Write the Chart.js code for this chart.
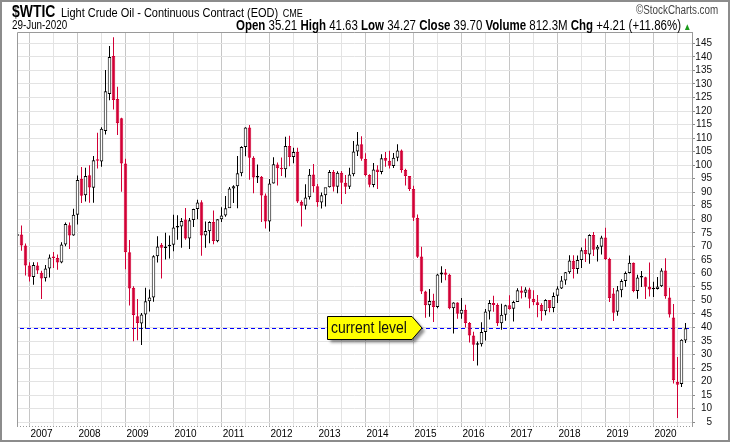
<!DOCTYPE html>
<html>
<head>
<meta charset="utf-8">
<script src="https://cdn.jsdelivr.net/npm/chart.js@4.4.1/dist/chart.umd.min.js"></script>
<style>
html,body{margin:0;padding:0;background:#fff;}
#wrap{position:relative;width:730px;height:442px;overflow:hidden;font-family:"Liberation Sans",Arial,sans-serif;}
#c{position:absolute;left:0;top:0;}
#frame{position:absolute;left:0;top:0;width:730px;height:442px;box-sizing:border-box;border:2px solid #8c8c8c;pointer-events:none;}
.t{position:absolute;white-space:nowrap;color:#000;line-height:1;}
.nl{transform:scaleX(0.82);transform-origin:left top;}
.nr{transform:scaleX(0.82);transform-origin:right top;}
</style>
</head>
<body>
<div id="wrap">
<canvas id="c" width="730" height="442"></canvas>
<div class="t nl" style="left:12px;top:3px;font-size:13.4px;"><b style="font-size:17px;margin-right:3px;">$WTIC</b> Light Crude Oil - Continuous Contract (EOD) <span style="font-size:11px;margin-left:2px;">CME</span></div>
<div class="t nl" style="left:12px;top:19px;font-size:12px;">29-Jun-2020</div>
<div class="t nr" style="right:39px;top:18px;font-size:14px;"><b>Open</b> 35.21 <b>High</b> 41.63 <b>Low</b> 34.27 <b>Close</b> 39.70 <b>Volume</b> 812.3M <b>Chg</b> +4.21 (+11.86%)<span style="color:#1a9a1a;font-size:10px"> &#9650;</span></div>
<div class="t nr" style="right:12px;top:4px;font-size:12px;color:#444;">&copy;StockCharts.com</div>
<div id="frame"></div>
</div>
<script>
// ---- categories: months from Jul 2006 to Jun 2020 ----
const startYear = 2006;
const startMonth = 6; // July (0-based)
const yearLabels = ['2007','2008','2009','2010','2011','2012','2013','2014','2015','2016','2017','2018','2019','2020'];
const yTicks = [5,10,15,20,25,30,35,40,45,50,55,60,65,70,75,80,85,90,95,100,105,110,115,120,125,130,135,140,145];
const currentLevel = 39.70;
const calloutText = 'current level';

// ---- monthly OHLC values ----
const opens = [
 73.9, 74.4, 70.3, 62.9, 58.7, 62.9,
 60.2, 58.2, 61.8, 65.9, 65.7, 64.0, 70.7, 77.8, 74.0, 81.7, 95.0, 88.9,
 96.3, 91.6, 102.0, 101.3, 112.6, 126.3, 140.3, 124.4, 117.3, 100.6, 67.8, 54.7,
 44.2, 41.5, 44.8, 49.7, 51.1, 66.3, 70.6, 69.4, 70.0, 70.6, 77.0, 77.3,
 79.9, 72.9, 79.7, 83.8, 86.3, 74.0, 75.6, 79.0, 71.9, 80.0, 81.4, 84.1,
 91.4, 92.2, 97.0, 106.7, 113.9, 102.7, 95.4, 95.7, 88.8, 79.2, 93.2, 100.2,
 98.8, 98.5, 107.1, 103.0, 104.9, 86.5, 85.0, 88.1, 96.5, 92.2, 86.2, 88.9,
 91.8, 97.5, 92.0, 97.2, 93.5, 92.0, 96.6, 105.0, 107.7, 102.3, 96.4, 92.7,
 98.4, 97.5, 102.6, 101.6, 99.7, 102.7, 105.4, 98.2, 96.0, 91.2, 80.5, 66.2,
 53.3, 48.2, 49.8, 47.6, 59.6, 60.3, 59.5, 47.1, 49.2, 45.1, 46.6, 41.7,
 37.0, 33.6, 33.8, 38.3, 45.9, 49.1, 48.3, 41.6, 44.7, 48.2, 46.9, 49.4,
 53.7, 52.8, 54.0, 50.6, 49.3, 48.3, 46.0, 50.2, 47.2, 51.7, 54.4, 57.4,
 60.4, 64.7, 61.6, 64.9, 68.6, 67.0, 74.2, 68.8, 69.8, 73.3, 65.3, 52.6,
 45.8, 53.8, 57.2, 60.1, 63.9, 53.5, 58.5, 58.6, 55.1, 54.1, 54.2, 55.2,
 61.1, 51.1, 43.7, 19.9, 19.1, 35.21
];
const highs = [
 78.4, 77.7, 71.0, 64.1, 64.1, 64.1,
 61.0, 63.1, 67.0, 67.9, 67.0, 71.5, 78.8, 78.8, 83.9, 96.2, 99.3, 99.0,
 100.0, 103.4, 112.0, 114.0, 135.2, 144.0, 147.3, 129.0, 117.5, 102.4, 72.3, 55.2,
 50.5, 45.4, 54.7, 54.0, 66.7, 73.7, 71.2, 75.0, 74.0, 81.7, 81.5, 80.5,
 84.2, 80.5, 83.9, 87.2, 87.0, 79.2, 79.3, 83.2, 80.0, 84.4, 88.6, 91.9,
 92.6, 103.4, 107.0, 114.0, 114.8, 103.3, 100.2, 96.0, 89.5, 94.9, 102.9, 101.0,
 102.8, 110.5, 110.9, 106.4, 106.4, 87.0, 92.9, 98.6, 100.4, 93.0, 89.9, 91.4,
 98.2, 98.2, 97.7, 97.8, 96.4, 99.0, 108.9, 112.2, 110.7, 104.4, 96.6, 100.8,
 100.0, 104.0, 104.9, 105.3, 104.5, 107.7, 105.8, 98.7, 95.9, 92.4, 81.8, 69.8,
 53.6, 54.2, 52.5, 59.9, 62.6, 61.6, 59.9, 49.3, 49.3, 50.9, 48.4, 42.0,
 38.4, 34.8, 41.9, 46.8, 50.2, 51.7, 49.0, 48.8, 48.4, 51.9, 49.9, 54.5,
 55.2, 54.9, 54.7, 53.8, 52.0, 49.0, 50.4, 50.2, 52.9, 55.2, 59.0, 60.5,
 66.7, 66.7, 66.6, 69.6, 72.9, 74.5, 75.3, 70.5, 73.9, 76.9, 65.8, 54.6,
 55.3, 57.8, 60.7, 66.6, 64.0, 59.5, 60.9, 58.8, 64.0, 56.9, 58.7, 61.9,
 65.6, 54.7, 48.7, 29.1, 35.7, 41.63
];
const lows = [
 72.5, 68.4, 59.2, 57.0, 55.8, 59.8,
 50.5, 57.0, 58.5, 62.0, 61.3, 63.7, 70.0, 69.0, 73.9, 78.1, 86.0, 86.6,
 86.1, 86.1, 98.8, 99.4, 111.3, 124.0, 120.6, 111.1, 90.2, 61.5, 48.1, 34.9,
 35.3, 33.5, 39.5, 45.9, 49.5, 64.0, 58.1, 65.1, 65.5, 68.2, 72.4, 69.5,
 72.4, 69.0, 77.1, 80.0, 66.5, 69.5, 71.1, 70.8, 71.5, 79.0, 80.9, 84.3,
 86.0, 84.1, 95.9, 103.3, 94.6, 89.6, 93.4, 79.0, 76.6, 75.5, 93.2, 92.5,
 96.0, 95.4, 99.6, 100.7, 86.0, 77.3, 83.6, 87.3, 89.9, 84.6, 84.0, 84.7,
 91.7, 90.3, 89.6, 85.6, 89.3, 91.2, 95.9, 103.4, 101.6, 95.9, 91.8, 91.8,
 91.2, 96.6, 99.4, 98.8, 98.9, 101.4, 97.2, 92.5, 90.4, 79.4, 65.7, 52.4,
 43.6, 44.0, 42.0, 47.1, 56.5, 57.5, 46.7, 37.8, 43.2, 43.2, 40.0, 34.5,
 27.6, 26.0, 33.0, 35.2, 43.0, 45.8, 40.6, 39.2, 42.5, 46.6, 42.2, 49.9,
 50.7, 51.2, 47.1, 48.2, 43.8, 42.5, 44.5, 45.6, 45.6, 49.1, 54.2, 55.8,
 59.9, 58.1, 59.9, 62.0, 64.2, 63.6, 66.4, 64.4, 67.0, 64.9, 49.4, 42.4,
 44.3, 51.2, 55.1, 60.0, 53.0, 50.6, 55.0, 50.5, 51.5, 51.3, 54.0, 55.0,
 50.6, 43.7, 19.3, 6.6, 18.0, 34.27
];
const closes = [
 74.40, 70.26, 62.91, 58.73, 63.13, 61.05,
 58.14, 61.79, 65.87, 65.71, 64.01, 70.68, 78.21, 74.04, 81.66, 94.53, 88.71, 95.98,
 91.75, 101.84, 101.58, 113.46, 127.35, 140.00, 124.08, 115.46, 100.64, 67.81, 54.43, 44.60,
 41.68, 44.76, 49.66, 51.12, 66.31, 69.89, 69.45, 69.96, 70.61, 77.00, 77.28, 79.36,
 72.89, 79.66, 83.76, 86.15, 73.97, 75.63, 78.95, 71.92, 79.97, 81.43, 84.11, 91.38,
 92.19, 96.97, 106.72, 113.93, 102.70, 95.42, 95.70, 88.81, 79.20, 93.19, 100.36, 98.83,
 98.48, 107.07, 103.02, 104.87, 86.53, 84.96, 88.06, 96.47, 92.19, 86.24, 88.91, 91.82,
 97.49, 92.05, 97.23, 93.46, 91.97, 96.56, 105.03, 107.65, 102.33, 96.38, 92.72, 98.42,
 97.49, 102.59, 101.58, 99.74, 102.71, 105.37, 98.17, 95.96, 91.16, 80.54, 66.15, 53.27,
 48.24, 49.76, 47.60, 59.63, 60.30, 59.47, 47.12, 49.20, 45.09, 46.59, 41.65, 37.04,
 33.62, 33.75, 38.34, 45.92, 49.10, 48.33, 41.60, 44.70, 48.24, 46.86, 49.44, 53.72,
 52.81, 54.01, 50.60, 49.33, 48.32, 46.04, 50.17, 47.23, 51.67, 54.38, 57.40, 60.42,
 64.73, 61.64, 64.94, 68.57, 67.04, 74.15, 68.76, 69.80, 73.25, 65.31, 50.93, 45.41,
 53.79, 57.22, 60.14, 63.91, 53.50, 58.47, 58.58, 55.10, 54.07, 54.18, 55.17, 61.06,
 51.56, 44.76, 20.48, 18.84, 35.49, 39.70
];

// ---- derived helpers (categories & colours) ----
const RED = '#d20036';
const monthOf = i => (startMonth + i) % 12;
const yearIdx = i => Math.floor((startMonth + i) / 12) + startYear;
const isUp = i => closes[i] >= opens[i];
const isBlack = i => (i === 0 ? closes[i] >= opens[i] : closes[i] >= closes[i - 1]);
const lineCol = closes.map((c, i) => isBlack(i) ? '#000000' : RED);
const bodyFill = closes.map((c, i) => isUp(i) ? '#ffffff' : lineCol[i]);

const xTickValues = [];
closes.forEach((c, i) => { if (i > 0 && (monthOf(i) === 0 || monthOf(i) === 6)) xTickValues.push(i); });

const FONT = '"Liberation Sans", Arial, sans-serif';

const overlay = {
  id: 'overlay',
  beforeDatasetsDraw(chart) {
    const {ctx, chartArea: a, scales: {y}} = chart;
    const yy = Math.round(y.getPixelForValue(currentLevel)) + 0.5;
    ctx.save();
    ctx.strokeStyle = '#0000ff';
    ctx.lineWidth = 1;
    ctx.setLineDash([4, 3]);
    ctx.beginPath();
    ctx.moveTo(a.left + 3, yy);
    ctx.lineTo(a.right, yy);
    ctx.stroke();
    ctx.restore();
  },
  afterDatasetsDraw(chart) {
    const {ctx, scales: {y}} = chart;
    const yy = y.getPixelForValue(currentLevel);
    const l = 327, r = 412, tip = 422, t = Math.round(yy - 12.5) + 0.5, b = Math.round(yy + 11) + 0.5;
    ctx.save();
    ctx.beginPath();
    ctx.moveTo(l + 0.5, t); ctx.lineTo(r, t); ctx.lineTo(tip, (t + b) / 2); ctx.lineTo(r, b); ctx.lineTo(l + 0.5, b); ctx.closePath();
    ctx.shadowColor = 'rgba(0,0,0,0.45)';
    ctx.shadowBlur = 3; ctx.shadowOffsetX = 3; ctx.shadowOffsetY = 3;
    ctx.fillStyle = '#ffff00';
    ctx.fill();
    ctx.shadowColor = 'transparent';
    ctx.strokeStyle = '#000';
    ctx.lineWidth = 1;
    ctx.stroke();
    ctx.fillStyle = '#111';
    ctx.font = '17px ' + FONT;
    ctx.textBaseline = 'middle';
    ctx.translate(l + 4, (t + b) / 2 + 0.5);
    ctx.scale(0.82, 1);
    ctx.fillText(calloutText, 0, 0);
    ctx.restore();
  },
  afterDraw(chart) {
    const {ctx, chartArea: a} = chart;
    ctx.save();
    ctx.strokeStyle = '#9a9a9a';
    ctx.lineWidth = 1;
    ctx.beginPath();
    ctx.moveTo(a.left + 0.5, a.bottom); ctx.lineTo(a.left + 0.5, a.top + 0.5); ctx.lineTo(a.right, a.top + 0.5);
    ctx.stroke();
    ctx.setLineDash([1, 2]);
    ctx.strokeStyle = '#999';
    ctx.beginPath();
    ctx.moveTo(a.left, a.bottom + 0.5); ctx.lineTo(a.right, a.bottom + 0.5);
    ctx.stroke();
    ctx.restore();
  }
};

new Chart(document.getElementById('c'), {
  type: 'bar',
  data: {
    datasets: [
      {
        label: 'body',
        data: opens.map((o, i) => ({x: i, y: [o, closes[i]]})),
        backgroundColor: bodyFill,
        borderColor: lineCol,
        borderWidth: 1,
        borderSkipped: false,
        barThickness: 3.5,
        minBarLength: 1.5,
        grouped: false,
        inflateAmount: 0,
        clip: 0,
        order: 1
      },
      {
        label: 'wick',
        data: lows.map((lo, i) => ({x: i, y: [lo, highs[i]]})),
        backgroundColor: lineCol,
        borderWidth: 0,
        barThickness: 1,
        grouped: false,
        inflateAmount: 0,
        clip: 0,
        order: 2
      }
    ]
  },
  options: {
    responsive: false,
    animation: false,
    layout: {padding: {left: 17, top: 32, right: 18, bottom: 0}},
    plugins: {legend: {display: false}, tooltip: {enabled: false}},
    scales: {
      x: {
        type: 'linear',
        offset: false,
        min: -0.125,
        max: 168.625,
        afterBuildTicks(s) { s.ticks = xTickValues.map(v => ({value: v})); },
        afterFit(s) { s.height = 16; },
        grid: {
          color: c => (c.tick && monthOf(c.tick.value) === 0) ? '#c6c6c6' : '#e3e3e3',
          drawTicks: false,
          lineWidth: 1
        },
        border: {display: false},
        ticks: {
          autoSkip: false,
          maxRotation: 0,
          padding: 2,
          color: '#000',
          font: {family: FONT, size: 10},
          callback: v => monthOf(v) === 0 ? yearLabels[yearIdx(v) - 2007] : ''
        }
      },
      y: {
        type: 'linear',
        position: 'right',
        offset: false,
        min: 3.6,
        max: 149.2,
        afterBuildTicks(s) { s.ticks = yTicks.map(v => ({value: v})); },
        afterFit(s) { s.width = 20; },
        grid: {color: '#e3e3e3', drawTicks: true, tickLength: 3, tickColor: '#8a8a8a'},
        border: {display: true, color: '#9a9a9a'},
        ticks: {
          autoSkip: false,
          crossAlign: 'far',
          padding: 1,
          color: '#111',
          font: {family: FONT, size: 10}
        }
      }
    }
  },
  plugins: [overlay]
});
</script>
</body>
</html>
